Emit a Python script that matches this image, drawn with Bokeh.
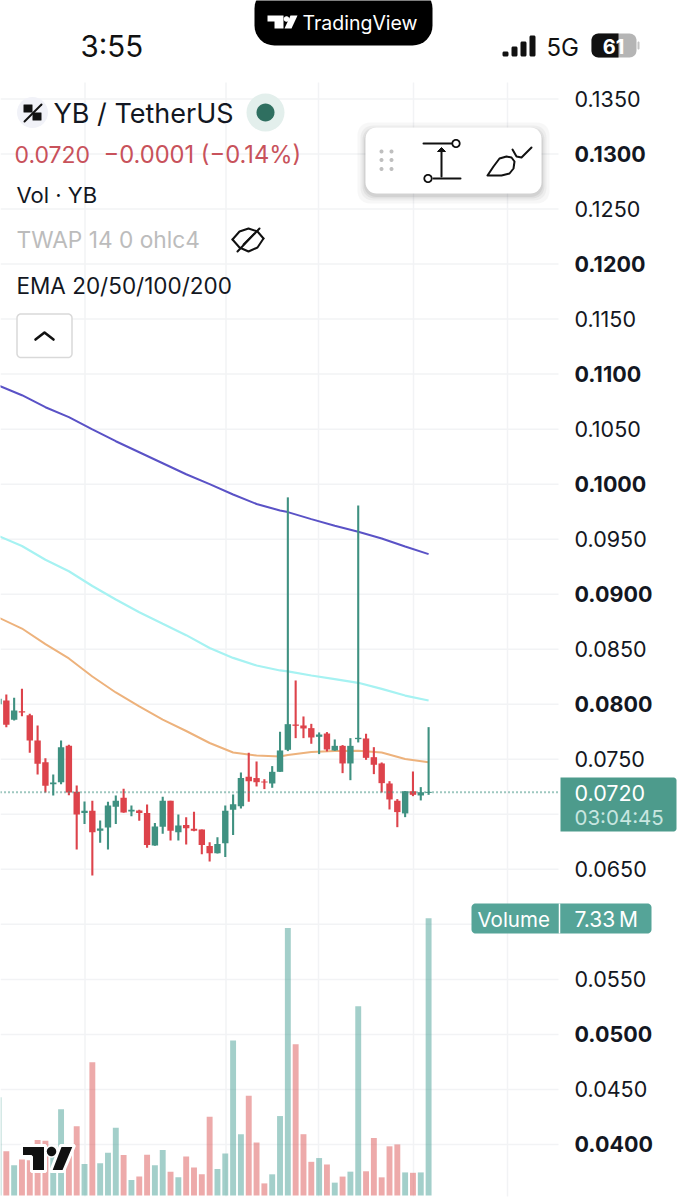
from math import cos, sin, pi
from bokeh.core.properties import value
from bokeh.embed import file_html
from bokeh.models import Range1d
from bokeh.plotting import figure
from bokeh.resources import INLINE

# ---- data (prices in USDT, volumes in millions of YB)
candle_open = [0.0800, 0.08034, 0.07859, 0.07937, 0.07901, 0.07671, 0.07474, 0.07274, 0.07292, 0.07622,
               0.07204, 0.07011, 0.07032, 0.06850, 0.06880, 0.07068, 0.07150, 0.07026, 0.07035, 0.07011,
               0.06717, 0.06886, 0.07123, 0.06838, 0.06902, 0.06868, 0.06862, 0.06711, 0.06647, 0.06738,
               0.07041, 0.07074, 0.07341, 0.07329, 0.07298, 0.07280, 0.07386, 0.07586, 0.07816, 0.07807,
               0.07783, 0.07704, 0.07734, 0.07580, 0.07622, 0.07462, 0.07683, 0.07689, 0.07519, 0.07462,
               0.07280, 0.07123, 0.07008, 0.07210, 0.07171, 0.07195]
candle_close = [0.0805, 0.07813, 0.07944, 0.07925, 0.07671, 0.07459, 0.07259, 0.07289, 0.07610, 0.07198,
                0.06998, 0.07032, 0.06838, 0.06871, 0.07080, 0.07123, 0.07017, 0.07041, 0.07011, 0.06720,
                0.06889, 0.07123, 0.06850, 0.06899, 0.06874, 0.06850, 0.06720, 0.06647, 0.06729, 0.07032,
                0.07092, 0.07329, 0.07301, 0.07292, 0.07289, 0.07386, 0.07580, 0.07819, 0.07804, 0.07780,
                0.07698, 0.07725, 0.07589, 0.07622, 0.07462, 0.07622, 0.07695, 0.07513, 0.07450, 0.07283,
                0.07135, 0.07020, 0.07210, 0.07177, 0.07201, 0.07204]
candle_high = [0.0812, 0.08089, 0.08059, 0.08140, 0.07913, 0.07807, 0.07510, 0.07362, 0.07671, 0.07632,
               0.07262, 0.07117, 0.07123, 0.06944, 0.07114, 0.07171, 0.07232, 0.07080, 0.07041, 0.07089,
               0.06920, 0.07159, 0.07123, 0.06998, 0.06974, 0.07023, 0.06862, 0.06747, 0.06792, 0.07080,
               0.07180, 0.07380, 0.07559, 0.07480, 0.07319, 0.07438, 0.07750, 0.09880, 0.08216, 0.07889,
               0.07822, 0.07744, 0.07747, 0.07680, 0.07629, 0.07692, 0.09806, 0.07732, 0.07610, 0.07471,
               0.07301, 0.07138, 0.07210, 0.07389, 0.07247, 0.07792]
candle_low = [0.0795, 0.07792, 0.07853, 0.07892, 0.07559, 0.07362, 0.07198, 0.07171, 0.07274, 0.07174,
              0.06680, 0.06911, 0.06444, 0.06741, 0.06680, 0.06911, 0.07014, 0.06983, 0.06941, 0.06696,
              0.06714, 0.06823, 0.06762, 0.06762, 0.06726, 0.06847, 0.06638, 0.06571, 0.06644, 0.06611,
              0.06811, 0.07053, 0.07114, 0.07253, 0.07229, 0.07241, 0.07386, 0.07574, 0.07692, 0.07692,
              0.07641, 0.07547, 0.07571, 0.07577, 0.07374, 0.07310, 0.07653, 0.07495, 0.07365, 0.07198,
              0.07044, 0.06883, 0.06974, 0.07165, 0.07126, 0.07177]
volume = [2.60, 1.17, 0.80, 0.95, 0.93, 1.47, 1.45, 1.28, 2.28, 1.32, 1.83, 0.83, 3.52, 0.85, 1.13, 1.79,
          1.07, 0.41, 0.50, 1.08, 0.80, 1.20, 0.63, 0.48, 1.03, 0.74, 0.56, 2.08, 0.70, 1.11, 4.10, 1.62,
          2.64, 1.40, 0.32, 0.56, 2.10, 7.07, 4.00, 1.62, 0.89, 0.99, 0.82, 0.34, 0.50, 0.63, 5.00, 0.64,
          1.52, 0.48, 1.30, 1.35, 0.61, 0.60, 0.61, 7.33]
ema_index = [0, 3, 6, 9, 12, 15, 18, 21, 24, 27, 30, 33, 36, 37, 40, 43, 46, 49, 52, 55]
ema_purple = [0.10897, 0.10808, 0.10699, 0.10609, 0.10497, 0.10390, 0.10290, 0.10190, 0.10090, 0.10000,
              0.09906, 0.09820, 0.09760, 0.09746, 0.09682, 0.09622, 0.09567, 0.09506, 0.09433, 0.09364]
ema_cyan = [0.09529, 0.09438, 0.09313, 0.09209, 0.09075, 0.08952, 0.08836, 0.08731, 0.08628, 0.08511,
            0.08421, 0.08352, 0.08307, 0.08298, 0.08261, 0.08229, 0.08195, 0.08140, 0.08079, 0.08034]
ema_orange = [0.08788, 0.08688, 0.08547, 0.08416, 0.08252, 0.08107, 0.07980, 0.07861, 0.07757, 0.07648,
              0.07562, 0.07534, 0.07525, 0.07539, 0.07566, 0.07575, 0.07577, 0.07562, 0.07503, 0.07473]
grid_ticks = [0.135, 0.13, 0.125, 0.12, 0.115, 0.11, 0.105, 0.10, 0.095, 0.09, 0.085, 0.08, 0.075, 0.07,
              0.065, 0.06, 0.055, 0.05, 0.045, 0.04]
light_labels = ["0.1350", "0.1250", "0.1150", "0.1050", "0.0950", "0.0850", "0.0750", "0.0650", "0.0550", "0.0450"]
bold_labels = ["0.1300", "0.1200", "0.1100", "0.1000", "0.0900", "0.0800", "0.0500", "0.0400"]
last_price = 0.0720

WIDTH, HEIGHT = 685, 1200
GREEN, RED = "#3f9181", "#dd434b"
PX_PER_BAR, BAR0_PX = 7.82, -2.0
PX_PER_PRICE, PRICE_REF, PRICE_REF_PX = 11005.0, 0.13, 153.5
VOL_PX_PER_M, VOL_BASE_PX = 277.3 / 7.33, 1195.0


def X(px):
    return (px - BAR0_PX) / PX_PER_BAR


def Y(py):
    return PRICE_REF - (py - PRICE_REF_PX) / PX_PER_PRICE


p = figure(width=WIDTH, height=HEIGHT, output_backend="svg", toolbar_location=None,
           x_range=Range1d(X(0), X(WIDTH)), y_range=Range1d(Y(HEIGHT), Y(0)),
           min_border=0, outline_line_color=None, background_fill_color="white")
p.axis.visible = False
p.grid.visible = False
p.extra_y_ranges = {"vol": Range1d((VOL_BASE_PX - HEIGHT) / VOL_PX_PER_M, VOL_BASE_PX / VOL_PX_PER_M)}


def T(px, py, s, size, color="#131722", bold=False, align="left", font="Inter"):
    p.text([X(px)], [Y(py)], text=[s], text_font=value(font), text_font_size=f"{size}px",
           text_color=color, text_font_style="bold" if bold else "normal",
           text_align=align, text_baseline="middle")


def round_rect(x0, y0, x1, y1, r, corners=(1, 1, 1, 1)):
    xs, ys = [], []
    spec = [(x1, y0, -90, corners[1]), (x1, y1, 0, corners[2]), (x0, y1, 90, corners[3]), (x0, y0, 180, corners[0])]
    for cx, cy, a0, on in spec:
        if not on:
            xs.append(cx)
            ys.append(cy)
            continue
        ox = cx - r if cx == x1 else cx + r
        oy = cy + r if cy == y0 else cy - r
        for k in range(9):
            a = (a0 + k * 90 / 8) * pi / 180
            xs.append(ox + r * cos(a))
            ys.append(oy + r * sin(a))
    return xs, ys


def box(x0, y0, x1, y1, r, fill, line=None, lw=1, alpha=1.0, corners=(1, 1, 1, 1)):
    xs, ys = round_rect(x0, y0, x1, y1, r, corners)
    p.patch([X(v) for v in xs], [Y(v) for v in ys], fill_color=fill, fill_alpha=alpha,
            line_color=line, line_width=lw, line_alpha=alpha if line else 0)


def stroke(pts, color="#111111", lw=2.0):
    p.line([X(a) for a, _ in pts], [Y(b) for _, b in pts], line_color=color, line_width=lw,
           line_cap="round", line_join="round")


def disc(cx, cy, r, fill, line=None, lw=1.5):
    pts = [(cx + r * cos(k * pi / 16), cy + r * sin(k * pi / 16)) for k in range(33)]
    p.patch([X(a) for a, _ in pts], [Y(b) for _, b in pts], fill_color=fill,
            line_color=line, line_width=lw, line_alpha=1 if line else 0)


# grid
GRID = "#f2f3f5"
p.segment([X(0)] * len(grid_ticks), grid_ticks, [X(558)] * len(grid_ticks), grid_ticks, line_color=GRID, line_width=1.5)
for vx in (84.5, 225.5, 318, 413, 507):
    p.segment([X(vx)], [Y(82)], [X(vx)], [Y(1196)], line_color=GRID, line_width=1.5)

# volume
idx = list(range(len(volume)))
up = [c >= o for o, c in zip(candle_open, candle_close)]
vol_colors = ["#479f95" if u else "#db5555" for u in up]
p.vbar(idx, width=5.9 / PX_PER_BAR, bottom=0, top=volume, fill_color=vol_colors, fill_alpha=0.5,
       line_color=None, y_range_name="vol")

# EMAs
p.line(ema_index, ema_purple, line_color="#5a52c6", line_width=2.0)
p.line(ema_index, ema_cyan, line_color="#a6f2f2", line_width=2.2)
p.line(ema_index, ema_orange, line_color="#edb27c", line_width=2.0)

# candles
colors = [GREEN if u else RED for u in up]
body_top = [max(o, c) for o, c in zip(candle_open, candle_close)]
body_bot = [min(o, c) for o, c in zip(candle_open, candle_close)]
p.segment(idx, candle_low, idx, candle_high, line_color=colors, line_width=2.1)
p.vbar(idx, width=6.4 / PX_PER_BAR, bottom=body_bot, top=body_top, fill_color=colors, line_color=None)

# last price line
p.line([X(0), X(558)], [last_price, last_price], line_color="#3f9181", line_width=2, line_dash="1 3")

# watermark logo
logo_t = [(21, 1145), (45, 1145), (45, 1171), (31, 1171), (31, 1156), (21, 1156)]
logo_s = [(60, 1145), (74, 1145), (63, 1171), (50, 1171)]
for shape in (logo_t, logo_s):
    p.patch([X(a) for a, _ in shape], [Y(b) for _, b in shape], fill_color="#111111", line_color="white", line_width=3)
disc(51, 1151, 5.5, "#111111", "white", 1.5)

# axis labels
for s in light_labels:
    p.text([X(574)], [float(s)], text=[s], text_font=value("Inter"), text_font_size="21.5px",
           text_color="#131722", text_align="left", text_baseline="middle")
for s in bold_labels:
    p.text([X(574)], [float(s)], text=[s], text_font=value("Inter"), text_font_size="21.5px",
           text_font_style="bold", text_color="#131722", text_align="left", text_baseline="middle")

# price badge
box(560, 777, 676, 831, 3, "#4d9b8c", corners=(0, 1, 1, 0))
T(574, 792.5, "0.0720", 21.5, "white")
T(574, 816.5, "03:04:45", 20.5, "#c8e6e0")

# volume badge
box(471, 903, 651, 933, 4, "#55a498")
p.segment([X(559)], [Y(903)], [X(559)], [Y(933)], line_color="white", line_width=1.5)
T(477, 918.5, "Volume", 20.5, "white")
T(574, 918.5, "7.33\u2009M", 21, "white")

# status bar
T(80, 45.5, "3:55", 29.5, "#111111")
box(254, -12, 432, 45, 20, "#000000")
tv_t = [(267, 15), (283, 15), (283, 28), (274, 28), (274, 21), (267, 21)]
tv_s = [(290, 15), (297, 15), (291, 28), (284, 28)]
for shape in (tv_t, tv_s):
    p.patch([X(a) for a, _ in shape], [Y(b) for _, b in shape], fill_color="white", line_color=None)
disc(286, 18.5, 2.8, "white")
T(302, 22, "TradingView", 19.5, "white")
for bx, top in zip((502, 511, 520, 529), (51, 46, 41, 35)):
    box(bx, top, bx + 6, 56, 1.5, "#111111")
T(546, 47, "5G", 24, "#111111")
box(591, 33, 636, 57, 7, "#b5b5b5")
box(591, 33, 618, 57, 7, "#111111", corners=(1, 0, 0, 1))
box(637, 41, 639, 49, 1, "#c4c4c4")
T(613, 45.5, "61", 20, "white", bold=True, align="center")

# legend block
disc(32, 112, 15.5, "#f1f2f8")
box(23, 104, 32, 112, 0.5, "#111111")
box(32, 112, 41, 120, 0.5, "#111111")
stroke([(24, 121), (41, 104)], "#111111", 2)
T(53, 113, "YB / TetherUS", 27)
disc(265, 112, 19, "#e3efec")
disc(265, 112, 9, "#2f6f60")
T(14, 153.5, "0.0720", 23, "#c8525b")
T(103, 153.5, "\u22120.0001 (\u22120.14%)", 23.7, "#c8525b")
T(16, 194, "Vol \u00b7 YB", 22)
T(16, 239, "TWAP 14 0 ohlc4", 22.7, "#bcbcbc")
T(16, 285, "EMA 20/50/100/200", 22.5)

# hidden-eye icon
eye_top = [(232, 239), (239, 231), (248, 228), (257, 231), (263, 238)]
eye_bot = [(232, 239), (239, 247), (248, 251), (257, 247), (263, 238)]
stroke(eye_top, lw=2)
stroke(eye_bot, lw=2)
stroke([(237, 251), (259, 228)], lw=2)
stroke([(243, 244), (254, 233)], lw=1.8)

# collapse button
box(16.5, 313.5, 71.5, 357, 4, "white", "#d9d9d9", 1.5)
stroke([(35, 339), (44, 332), (53, 339)], lw=2.6)

# drawing tool panel
for grow, a in ((8, 0.03), (5, 0.04), (3, 0.05), (1.5, 0.06)):
    box(365 - grow, 127 - grow + 3, 541 + grow, 193 + grow + 2, 12, "#000000", alpha=a)
box(365, 127, 541, 193, 11, "white")
for dx in (381, 391):
    for dy in (151, 159.5, 168.5):
        disc(dx, dy, 2, "#bfbfbf")
stroke([(423, 143), (451, 143)])
stroke([(433, 178), (460, 178)])
stroke([(441, 176), (441, 150)])
p.patch([X(437), X(445), X(441)], [Y(151), Y(151), Y(147)], fill_color="#111111", line_color="#111111", line_width=1)
disc(455.5, 143, 3.7, "white", "#111111", 1.8)
disc(427.5, 178, 3.7, "white", "#111111", 1.8)
brush = [(487, 175), (493, 166), (499, 158), (506, 156), (511, 157), (514, 161), (513, 168), (509, 173), (501, 175), (487, 175)]
stroke(brush)
stroke([(512, 149), (516, 156), (521, 157), (531, 147)])

open("out.html", "w").write(file_html(p, INLINE))
